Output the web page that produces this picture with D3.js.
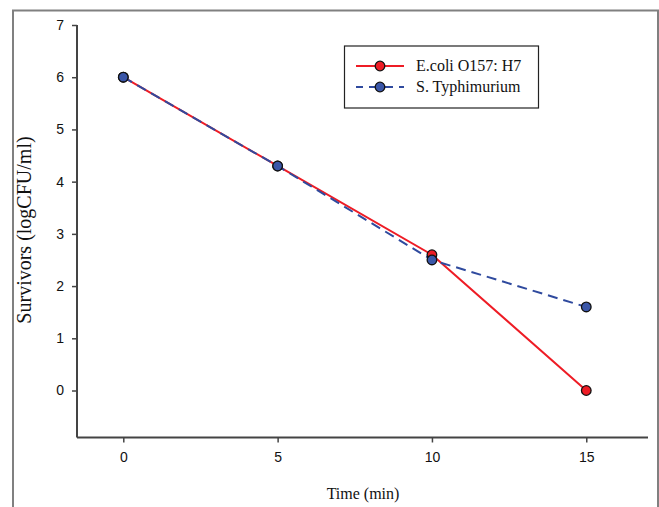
<!DOCTYPE html>
<html><head><meta charset="utf-8">
<script src="https://cdn.jsdelivr.net/npm/d3@7"></script>
<style>body{margin:0;background:#fff}svg{display:block}</style>
</head><body><svg id="c" width="659" height="507"></svg>
<script>
const times = [0, 5, 10, 15];
const ecoli = [6.0, 4.3, 2.6, 0.0];
const salmonella = [6.0, 4.3, 2.5, 1.6];
const seriesNames = ["E.coli O157: H7", "S. Typhimurium"];
const xTicks = [0, 5, 10, 15];
const yTicks = [0, 1, 2, 3, 4, 5, 6, 7];

const svg = d3.select("#c");
const x = d3.scaleLinear().domain([-1.5, 17]).range([77, 648]);
const y = d3.scaleLinear().domain([-0.9, 7]).range([437.5, 25]);

// outer frame
svg.append("path").attr("d","M13,507V10.5H658V507").attr("fill","none").attr("stroke","#808080").attr("stroke-width",2);

// axes
const ax = svg.append("g").attr("transform","translate(0,437.5)")
  .call(d3.axisBottom(x).tickValues(xTicks).tickSize(5).tickPadding(10).tickSizeOuter(0));
const ay = svg.append("g").attr("transform","translate(77,0)")
  .call(d3.axisLeft(y).tickValues(yTicks).tickSize(5).tickPadding(8).tickSizeOuter(0));
[ax, ay].forEach(g => {
  g.select(".domain").attr("stroke","#444").attr("stroke-width",2);
  g.selectAll(".tick line").attr("stroke","#444").attr("stroke-width",1.5);
  g.selectAll(".tick text").attr("font-family","Liberation Sans, Arial, sans-serif").attr("font-size",14).attr("fill","#111");
});
ay.select(".domain").attr("d", `M0,${y(7)}V437.5`);
ax.select(".domain").attr("d", `M77,0H648`);

// titles
svg.append("text").attr("x", 363).attr("y", 499).attr("text-anchor","middle")
  .attr("font-family","Liberation Serif, Times New Roman, serif").attr("font-size",16).attr("fill","#111").text("Time (min)");
svg.append("text").attr("transform","translate(31,230) rotate(-90)").attr("text-anchor","middle")
  .attr("font-family","Liberation Serif, Times New Roman, serif").attr("font-size",20).attr("fill","#111").text("Survivors (logCFU/ml)");

const line = d3.line().x(d => x(d[0])).y(d => y(d[1]));
const red = "#ee1c25", blue = "#2f4a9e", redFill = "#ee1c25", blueFill = "#3a56a8";
const dE = times.map((t,i)=>[t, ecoli[i]]);
const dS = times.map((t,i)=>[t, salmonella[i]]);

svg.append("path").datum(dE).attr("d", line).attr("fill","none").attr("stroke", red).attr("stroke-width",2);
svg.append("path").datum(dS).attr("d", line).attr("fill","none").attr("stroke", blue).attr("stroke-width",2).attr("stroke-dasharray","10,6");

svg.selectAll(".pe").data(dE).join("circle").attr("cx", d=>x(d[0])).attr("cy", d=>y(d[1])).attr("r",4.8)
  .attr("fill", redFill).attr("stroke","#111").attr("stroke-width",1.3);
svg.selectAll(".ps").data(dS).join("circle").attr("cx", d=>x(d[0])).attr("cy", d=>y(d[1])).attr("r",4.8)
  .attr("fill", blueFill).attr("stroke","#111").attr("stroke-width",1.3);

// legend
const lg = svg.append("g");
lg.append("rect").attr("x",344.5).attr("y",46).attr("width",194).attr("height",62).attr("fill","#fff").attr("stroke","#222").attr("stroke-width",1.2);
const rows = [{n: seriesNames[0], c: red, f: redFill, dash: null, yy: 66},{n: seriesNames[1], c: blue, f: blueFill, dash: "10,6", yy: 87}];
rows.forEach(r => {
  lg.append("line").attr("x1",356).attr("x2",404).attr("y1",r.yy).attr("y2",r.yy).attr("stroke",r.c).attr("stroke-width",2)
    .attr("stroke-dasharray", r.dash ? "9,6" : null).attr("stroke-dashoffset", r.dash ? 2 : null);
  lg.append("circle").attr("cx",380).attr("cy",r.yy).attr("r",4.8).attr("fill",r.f).attr("stroke","#111").attr("stroke-width",1.3);
  lg.append("text").attr("x",416).attr("y",r.yy+5).attr("font-family","Liberation Serif, Times New Roman, serif").attr("font-size",16).attr("fill","#111").text(r.n);
});
</script></body></html>
